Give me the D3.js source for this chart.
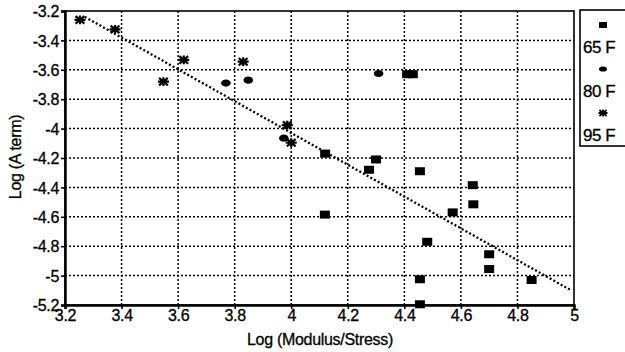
<!DOCTYPE html>
<html><head><meta charset="utf-8">
<script src="https://cdn.jsdelivr.net/npm/d3@7"></script>
<style>body{margin:0;background:#fff}svg{display:block}text{font-family:Arial,"Liberation Sans",sans-serif;fill:#000}</style>
</head><body><svg id="c" width="625" height="352"></svg>
<script>
const xTicks = [3.2,3.4,3.6,3.8,4,4.2,4.4,4.6,4.8,5];
const yTicks = [-3.2,-3.4,-3.6,-3.8,-4,-4.2,-4.4,-4.6,-4.8,-5,-5.2];
const s65x = [4.41,4.43,4.12,4.30,4.275,4.455,4.119,4.642,4.644,4.571,4.481,4.70,4.70,4.455,4.85,4.455];
const s65y = [-3.63,-3.63,-4.17,-4.21,-4.28,-4.29,-4.585,-4.385,-4.515,-4.57,-4.77,-4.855,-4.955,-5.025,-5.03,-5.195];
const s80x = [3.769,3.848,3.974,4.309];
const s80y = [-3.69,-3.67,-4.065,-3.625];
const s95x = [3.253,3.377,3.548,3.62,3.83,3.986,4.0];
const s95y = [-3.26,-3.325,-3.68,-3.533,-3.545,-3.976,-4.096];
const trendX = [3.27,4.985];
const trendY = [-3.24,-5.095];
const legendLabels = ["65 F","80 F","95 F"];

const svg = d3.select("#c");
const x = d3.scaleLinear().domain([3.2,5]).range([65,574]);
const y = d3.scaleLinear().domain([-3.2,-5.2]).range([11,305]);

// grid
svg.append("g").selectAll("line").data(xTicks.slice(1,-1)).join("line")
  .attr("x1",d=>x(d)).attr("x2",d=>x(d)).attr("y1",y(-3.2)).attr("y2",y(-5.2))
  .attr("stroke","#000").attr("stroke-width",1.5).attr("stroke-dasharray","2,2");
svg.append("g").selectAll("line").data(yTicks.slice(1,-1)).join("line")
  .attr("y1",d=>y(d)).attr("y2",d=>y(d)).attr("x1",x(3.2)).attr("x2",x(5))
  .attr("stroke","#000").attr("stroke-width",1.5).attr("stroke-dasharray","2,2");

// frame
svg.append("rect").attr("x",x(3.2)).attr("y",y(-3.2)).attr("width",x(5)-x(3.2)).attr("height",y(-5.2)-y(-3.2))
  .attr("fill","none").attr("stroke","#000").attr("stroke-width",1.6);

// axes
const fmt = d=>String(d);
const xa = svg.append("g").attr("transform",`translate(0,${y(-5.2)})`)
  .call(d3.axisBottom(x).tickValues(xTicks).tickFormat(fmt).tickSize(4).tickPadding(1));
const ya = svg.append("g").attr("transform",`translate(${x(3.2)},0)`)
  .call(d3.axisLeft(y).tickValues(yTicks).tickFormat(fmt).tickSize(4).tickPadding(2));
[xa,ya].forEach(a=>{
  a.select(".domain").attr("stroke","#000").attr("stroke-width",2.5);
  a.selectAll(".tick line").attr("stroke","#000").attr("stroke-width",1.6);
  a.selectAll("text").attr("font-size",16).attr("letter-spacing","-0.3px").attr("font-family","Arial, 'Liberation Sans', sans-serif").attr("fill","#000")
    .attr("stroke","#000").attr("stroke-width",0.3);
});
ya.selectAll("text").attr("dy","0.36em");

// trend line
svg.append("path").datum(d3.zip(trendX,trendY))
  .attr("d",d3.line().x(d=>x(d[0])).y(d=>y(d[1])))
  .attr("fill","none").attr("stroke","#000").attr("stroke-width",2.3).attr("stroke-dasharray","2,2.2");

// marker shapes
function drawSquare(g, w, h){ g.append("rect").attr("x",-w/2).attr("y",-h/2).attr("width",w).attr("height",h).attr("fill","#000"); }
function drawBlob(g, rx, ry){ g.append("ellipse").attr("rx",rx).attr("ry",ry).attr("fill","#000"); }
function drawStar(g, r, sw){
  const a = r*0.8;
  g.append("path").attr("d",`M${-r},0L${r},0M0,${-r*0.8}L0,${r*0.8}M${-a},${-a*0.85}L${a},${a*0.85}M${-a},${a*0.85}L${a},${-a*0.85}`)
   .attr("stroke","#000").attr("stroke-width",sw).attr("fill","none");
}

svg.append("g").selectAll("g").data(d3.zip(s65x,s65y)).join("g")
  .attr("transform",d=>`translate(${x(d[0])},${y(d[1])})`).each(function(){drawSquare(d3.select(this),10,8);});
svg.append("g").selectAll("g").data(d3.zip(s80x,s80y)).join("g")
  .attr("transform",d=>`translate(${x(d[0])},${y(d[1])})`).each(function(){drawBlob(d3.select(this),4.8,3.6);});
svg.append("g").selectAll("g").data(d3.zip(s95x,s95y)).join("g")
  .attr("transform",d=>`translate(${x(d[0])},${y(d[1])})`).each(function(){drawStar(d3.select(this),5.5,2.2);});

// axis titles
svg.append("text").attr("x",320).attr("y",345).attr("text-anchor","middle")
  .attr("font-size",16).attr("letter-spacing","-0.3px").attr("stroke","#000").attr("stroke-width",0.3).text("Log (Modulus/Stress)");
svg.append("text").attr("transform","translate(21,157) rotate(-90)").attr("text-anchor","middle")
  .attr("font-size",16).attr("letter-spacing","-0.3px").attr("stroke","#000").attr("stroke-width",0.3).text("Log (A term)");

// legend
const lg = svg.append("g");
lg.append("rect").attr("x",580).attr("y",10).attr("width",60).attr("height",136)
  .attr("fill","#fff").attr("stroke","#000").attr("stroke-width",1.6);
const legDraw = [g=>drawSquare(g,8,6), g=>drawBlob(g,4,2.6), g=>drawStar(g,4.5,1.8)];
legendLabels.forEach((t,i)=>{
  const cy = 25 + i*44;
  const g = lg.append("g").attr("transform",`translate(603,${cy})`);
  legDraw[i](g);
  lg.append("text").attr("x",583).attr("y",cy+28).attr("font-size",17).attr("letter-spacing","-0.5px")
    .attr("stroke","#000").attr("stroke-width",0.3).text(t);
});
</script></body></html>
